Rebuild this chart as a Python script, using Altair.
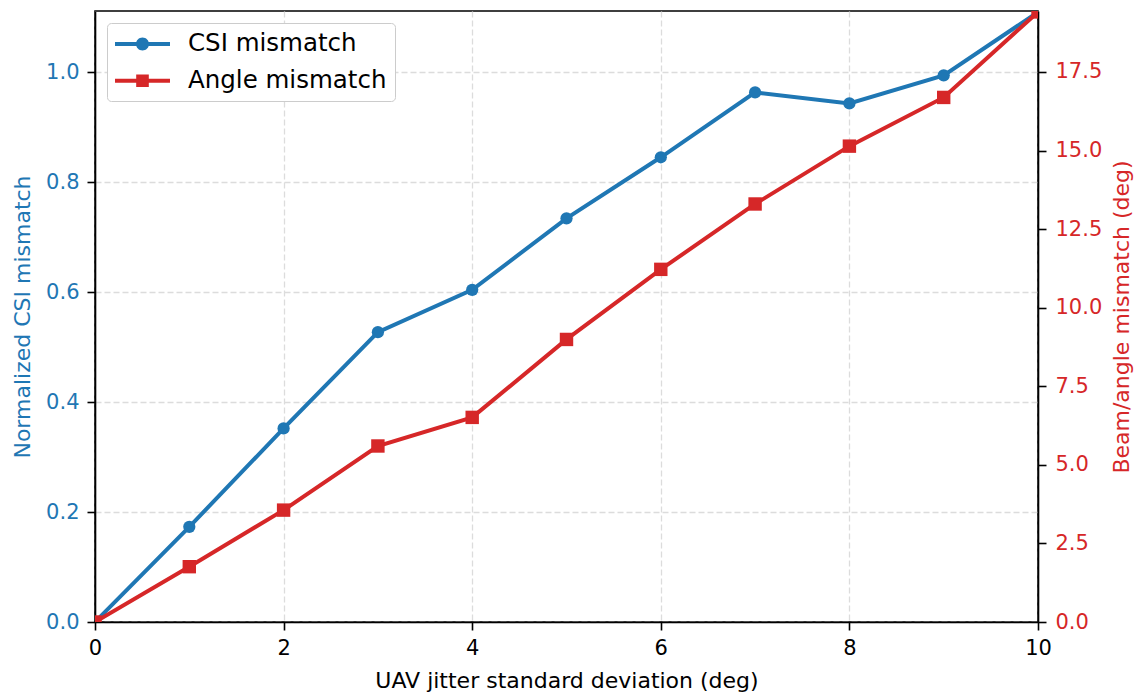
import altair as alt
import pandas as pd

# ---- data ----
jitter = [0, 1, 2, 3, 4, 5, 6, 7, 8, 9, 10]
csi_mismatch = [0.0, 0.173, 0.352, 0.527, 0.604, 0.734, 0.845, 0.963, 0.943, 0.994, 1.109]
angle_mismatch = [0.0, 1.76, 3.56, 5.60, 6.51, 8.99, 11.22, 13.30, 15.14, 16.69, 19.41]
series_names = ["CSI mismatch", "Angle mismatch"]
x_ticks = [0, 2, 4, 6, 8, 10]
left_ticks = [0.0, 0.2, 0.4, 0.6, 0.8, 1.0]
right_ticks = [0.0, 2.5, 5.0, 7.5, 10.0, 12.5, 15.0, 17.5]

BLUE = "#1f77b4"
RED = "#d62728"
FONT = "DejaVu Sans"

df = pd.DataFrame({"jitter": jitter, "csi": csi_mismatch, "angle": angle_mismatch})
leg_df = pd.DataFrame({"series": series_names})

# legend symbols: line segment with marker (custom SVG paths; 1 unit = 13 px at size 676)
path_circle = ("M-2.115,-0.154H2.115V0.154H-2.115Z "
               "M0.5,0A0.5,0.5 0 1,1 -0.5,0A0.5,0.5 0 1,1 0.5,0Z")
path_square = "M-2.115,-0.154H2.115V0.154H-2.115Z M-0.485,-0.485H0.485V0.485H-0.485Z"

x_enc = alt.X(
    "jitter:Q",
    scale=alt.Scale(domain=[0, 10], nice=False, zero=False),
    axis=alt.Axis(values=x_ticks, format="d", title="UAV jitter standard deviation (deg)",
                  grid=True, labelFlush=False, labelPadding=7, titlePadding=12),
)

left_axis = alt.Axis(values=left_ticks, format=".1f", title="Normalized CSI mismatch",
                     orient="left", grid=True, labelColor=BLUE, titleColor=BLUE,
                     labelPadding=8, titlePadding=11, labelFlush=False)
right_axis = alt.Axis(values=right_ticks, format=".1f", title="Beam/angle mismatch (deg)",
                      orient="right", grid=False, labelColor=RED, titleColor=RED,
                      labelPadding=9, titlePadding=10, titleAngle=270, titleBaseline="top",
                      labelFlush=False)

y_left = alt.Y("csi:Q", scale=alt.Scale(domain=[0, 1.111], nice=False), axis=left_axis)
y_right = alt.Y("angle:Q", scale=alt.Scale(domain=[0, 19.44], nice=False), axis=right_axis)

base = alt.Chart(df)

csi_line = base.mark_line(color=BLUE, strokeWidth=4, clip=True).encode(x=x_enc, y=y_left)
csi_pts = base.mark_point(shape="circle", filled=True, size=150, color=BLUE, opacity=1,
                          clip=True).encode(x=x_enc, y=y_left)

legend_props = dict(
    title=None, orient="none", legendX=12, legendY=12,
    labelFontSize=24.5, labelFont=FONT, labelColor="black", labelLimit=600,
    symbolSize=676, symbolStrokeWidth=0, symbolOpacity=1, symbolOffset=14.5,
    labelOffset=32.5, rowPadding=11.75, padding=8,
    fillColor="white", strokeColor="#cccccc", cornerRadius=4,
)

helper = alt.Chart(leg_df).mark_point(filled=True, opacity=0).encode(
    color=alt.Color("series:N", scale=alt.Scale(domain=series_names, range=[BLUE, RED]),
                    sort=series_names, legend=alt.Legend(**legend_props)),
    shape=alt.Shape("series:N", scale=alt.Scale(domain=series_names, range=[path_circle, path_square]),
                    sort=series_names, legend=alt.Legend(**legend_props)),
)

ang_line = base.mark_line(color=RED, strokeWidth=4, clip=True).encode(x=x_enc, y=y_right)
ang_pts = base.mark_point(shape="square", filled=True, size=180, color=RED, opacity=1,
                          clip=True).encode(x=x_enc, y=y_right)

left_layer = alt.layer(csi_line, csi_pts, helper)
right_layer = alt.layer(ang_line, ang_pts)

chart = (
    alt.layer(left_layer, right_layer)
    .resolve_scale(y="independent")
    .properties(width=943, height=611,
                autosize=alt.AutoSizeParams(type="none"),
                padding={"left": 87, "top": 3, "right": 96, "bottom": 70})
    .configure(font=FONT)
    .configure_view(stroke="black", strokeWidth=1.6)
    .configure_axis(
        labelFont=FONT, titleFont=FONT, labelFontSize=21, titleFontSize=22,
        titleFontWeight="normal", labelColor="black", titleColor="black",
        domain=True, domainColor="black", domainWidth=1.6,
        tickColor="black", tickSize=8, tickWidth=1.6,
        gridColor="#dcdcdc", gridDash=[6, 3], gridWidth=1.3,
    )
)

chart.save("out.html", embed_options={"renderer": "svg", "actions": False})
